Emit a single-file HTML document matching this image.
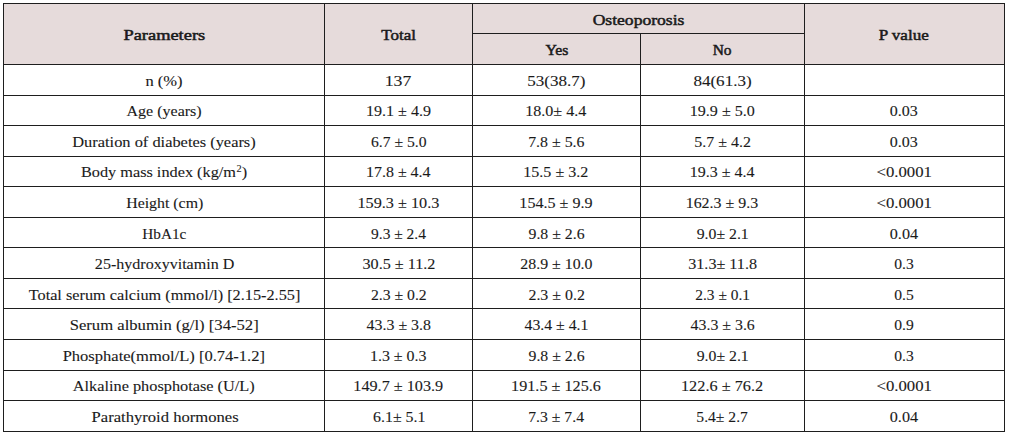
<!DOCTYPE html><html><head><meta charset="utf-8"><style>
html,body{margin:0;padding:0;background:#fff;width:1009px;height:435px;overflow:hidden;position:relative}
.h{position:absolute;background:#1e1e1e;height:1px}
.v{position:absolute;background:#1e1e1e;width:1px}
.c{position:absolute;text-align:center;white-space:nowrap;font-family:"Liberation Serif",serif;color:#1a1a1a;font-size:15px;height:20px;line-height:20px;-webkit-text-stroke:0.1px #1a1a1a}
.c span{display:inline-block}
.b{font-weight:normal;-webkit-text-stroke:0.5px #1a1a1a}
.bg{position:absolute;background:#e6dbdb}
sup{font-size:9.5px;vertical-align:baseline;position:relative;top:-5.5px;line-height:0;margin-left:0.5px}
</style></head><body>

<div class="bg" style="left:3px;top:3px;width:1001px;height:61px"></div>
<div class="h" style="left:3px;top:3px;width:1002px"></div>
<div class="h" style="left:3px;top:64px;width:1002px"></div>
<div class="h" style="left:3px;top:95px;width:1002px"></div>
<div class="h" style="left:3px;top:125px;width:1002px"></div>
<div class="h" style="left:3px;top:156px;width:1002px"></div>
<div class="h" style="left:3px;top:186px;width:1002px"></div>
<div class="h" style="left:3px;top:217px;width:1002px"></div>
<div class="h" style="left:3px;top:247px;width:1002px"></div>
<div class="h" style="left:3px;top:278px;width:1002px"></div>
<div class="h" style="left:3px;top:308px;width:1002px"></div>
<div class="h" style="left:3px;top:339px;width:1002px"></div>
<div class="h" style="left:3px;top:370px;width:1002px"></div>
<div class="h" style="left:3px;top:400px;width:1002px"></div>
<div class="h" style="left:3px;top:431px;width:1002px"></div>
<div class="h" style="left:472px;top:33px;width:332px"></div>
<div class="v" style="left:3px;top:3px;height:429px"></div>
<div class="v" style="left:324px;top:3px;height:429px"></div>
<div class="v" style="left:472px;top:3px;height:429px"></div>
<div class="v" style="left:640px;top:33px;height:399px"></div>
<div class="v" style="left:804px;top:3px;height:429px"></div>
<div class="v" style="left:1004px;top:3px;height:429px"></div>
<div class="c b" style="left:4px;top:25px;width:320px"><span style="transform:translateX(-0.01px) scaleX(1.2267)">Parameters</span></div>
<div class="c b" style="left:325px;top:25px;width:147px"><span style="transform:translateX(0.38px) scaleX(1.1347)">Total</span></div>
<div class="c b" style="left:473px;top:10px;width:331px"><span style="transform:translateX(0.36px) scaleX(1.1715)">Osteoporosis</span></div>
<div class="c b" style="left:473px;top:40px;width:167px"><span style="transform:translateX(-0.09px) scaleX(1.0471)">Yes</span></div>
<div class="c b" style="left:641px;top:40px;width:163px"><span style="transform:translateX(-0.09px) scaleX(1.0291)">No</span></div>
<div class="c b" style="left:805px;top:25px;width:199px"><span style="transform:translateX(-0.25px) scaleX(1.1394)">P value</span></div>
<div class="c" style="left:4px;top:71px;width:320px"><span style="transform:translateX(0.15px) scaleX(1.1027)">n (%)</span></div>
<div class="c" style="left:325px;top:71px;width:147px"><span style="transform:translateX(-0.31px) scaleX(1.1832)">137</span></div>
<div class="c" style="left:473px;top:71px;width:167px"><span style="transform:translateX(-0.26px) scaleX(1.1355)">53(38.7)</span></div>
<div class="c" style="left:641px;top:71px;width:163px"><span style="transform:translateX(-0.11px) scaleX(1.1371)">84(61.3)</span></div>
<div class="c" style="left:4px;top:101px;width:320px"><span style="transform:translateX(-0.11px) scaleX(1.0672)">Age (years)</span></div>
<div class="c" style="left:325px;top:101px;width:147px"><span style="transform:translateX(0.11px) scaleX(1.0700)">19.1 ± 4.9</span></div>
<div class="c" style="left:473px;top:101px;width:167px"><span style="transform:translateX(-0.76px) scaleX(1.0716)">18.0± 4.4</span></div>
<div class="c" style="left:641px;top:101px;width:163px"><span style="transform:translateX(-0.06px) scaleX(1.0709)">19.9 ± 5.0</span></div>
<div class="c" style="left:805px;top:101px;width:199px"><span style="transform:translateX(-0.36px) scaleX(1.0669)">0.03</span></div>
<div class="c" style="left:4px;top:132px;width:320px"><span style="transform:translateX(0.07px) scaleX(1.0928)">Duration of diabetes (years)</span></div>
<div class="c" style="left:325px;top:132px;width:147px"><span style="transform:translateX(0.11px) scaleX(1.0444)">6.7 ± 5.0</span></div>
<div class="c" style="left:473px;top:132px;width:167px"><span style="transform:translateX(-0.26px) scaleX(1.0587)">7.8 ± 5.6</span></div>
<div class="c" style="left:641px;top:132px;width:163px"><span style="transform:translateX(0.02px) scaleX(1.0633)">5.7 ± 4.2</span></div>
<div class="c" style="left:805px;top:132px;width:199px"><span style="transform:translateX(-0.36px) scaleX(1.0669)">0.03</span></div>
<div class="c" style="left:4px;top:162px;width:320px"><span style="transform:translateX(0.42px) scaleX(1.0845)">Body mass index (kg/m<sup>2</sup>)</span></div>
<div class="c" style="left:325px;top:162px;width:147px"><span style="transform:translateX(-0.09px) scaleX(1.0630)">17.8 ± 4.4</span></div>
<div class="c" style="left:473px;top:162px;width:167px"><span style="transform:translateX(-0.57px) scaleX(1.0706)">15.5 ± 3.2</span></div>
<div class="c" style="left:641px;top:162px;width:163px"><span style="transform:translateX(-0.25px) scaleX(1.0646)">19.3 ± 4.4</span></div>
<div class="c" style="left:805px;top:162px;width:199px"><span style="transform:translateX(-0.65px) scaleX(1.1152)">&lt;0.0001</span></div>
<div class="c" style="left:4px;top:193px;width:320px"><span style="transform:translateX(0.28px) scaleX(1.0574)">Height (cm)</span></div>
<div class="c" style="left:325px;top:193px;width:147px"><span style="transform:translateX(-0.45px) scaleX(1.0812)">159.3 ± 10.3</span></div>
<div class="c" style="left:473px;top:193px;width:167px"><span style="transform:translateX(-0.18px) scaleX(1.0722)">154.5 ± 9.9</span></div>
<div class="c" style="left:641px;top:193px;width:163px"><span style="transform:translateX(-0.23px) scaleX(1.0617)">162.3 ± 9.3</span></div>
<div class="c" style="left:805px;top:193px;width:199px"><span style="transform:translateX(-0.65px) scaleX(1.1152)">&lt;0.0001</span></div>
<div class="c" style="left:4px;top:224px;width:320px"><span style="transform:translateX(0.67px) scaleX(1.0190)">HbA1c</span></div>
<div class="c" style="left:325px;top:224px;width:147px"><span style="transform:translateX(-0.14px) scaleX(1.0311)">9.3 ± 2.4</span></div>
<div class="c" style="left:473px;top:224px;width:167px"><span style="transform:translateX(-0.09px) scaleX(1.0523)">9.8 ± 2.6</span></div>
<div class="c" style="left:641px;top:224px;width:163px"><span style="transform:translateX(-0.06px) scaleX(1.0525)">9.0± 2.1</span></div>
<div class="c" style="left:805px;top:224px;width:199px"><span style="transform:translateX(-0.22px) scaleX(1.0781)">0.04</span></div>
<div class="c" style="left:4px;top:254px;width:320px"><span style="transform:translateX(0.36px) scaleX(1.0690)">25-hydroxyvitamin D</span></div>
<div class="c" style="left:325px;top:254px;width:147px"><span style="transform:translateX(0.09px) scaleX(1.0773)">30.5 ± 11.2</span></div>
<div class="c" style="left:473px;top:254px;width:167px"><span style="transform:translateX(0.32px) scaleX(1.0574)">28.9 ± 10.0</span></div>
<div class="c" style="left:641px;top:254px;width:163px"><span style="transform:translateX(-0.35px) scaleX(1.0759)">31.3± 11.8</span></div>
<div class="c" style="left:805px;top:254px;width:199px"><span style="transform:translateX(-0.44px) scaleX(1.0386)">0.3</span></div>
<div class="c" style="left:4px;top:285px;width:320px"><span style="transform:translateX(0.24px) scaleX(1.0841)">Total serum calcium (mmol/l) [2.15-2.55]</span></div>
<div class="c" style="left:325px;top:285px;width:147px"><span style="transform:translateX(0.22px) scaleX(1.0476)">2.3 ± 0.2</span></div>
<div class="c" style="left:473px;top:285px;width:167px"><span style="transform:translateX(0.02px) scaleX(1.0592)">2.3 ± 0.2</span></div>
<div class="c" style="left:641px;top:285px;width:163px"><span style="transform:translateX(0.00px) scaleX(1.0275)">2.3 ± 0.1</span></div>
<div class="c" style="left:805px;top:285px;width:199px"><span style="transform:translateX(-0.44px) scaleX(1.0379)">0.5</span></div>
<div class="c" style="left:4px;top:315px;width:320px"><span style="transform:translateX(-0.01px) scaleX(1.1092)">Serum albumin (g/l) [34-52]</span></div>
<div class="c" style="left:325px;top:315px;width:147px"><span style="transform:translateX(0.42px) scaleX(1.0593)">43.3 ± 3.8</span></div>
<div class="c" style="left:473px;top:315px;width:167px"><span style="transform:translateX(0.09px) scaleX(1.0516)">43.4 ± 4.1</span></div>
<div class="c" style="left:641px;top:315px;width:163px"><span style="transform:translateX(0.33px) scaleX(1.0563)">43.3 ± 3.6</span></div>
<div class="c" style="left:805px;top:315px;width:199px"><span style="transform:translateX(-0.44px) scaleX(1.0379)">0.9</span></div>
<div class="c" style="left:4px;top:346px;width:320px"><span style="transform:translateX(-0.04px) scaleX(1.1016)">Phosphate(mmol/L) [0.74-1.2]</span></div>
<div class="c" style="left:325px;top:346px;width:147px"><span style="transform:translateX(-0.37px) scaleX(1.0648)">1.3 ± 0.3</span></div>
<div class="c" style="left:473px;top:346px;width:167px"><span style="transform:translateX(-0.09px) scaleX(1.0523)">9.8 ± 2.6</span></div>
<div class="c" style="left:641px;top:346px;width:163px"><span style="transform:translateX(-0.06px) scaleX(1.0525)">9.0± 2.1</span></div>
<div class="c" style="left:805px;top:346px;width:199px"><span style="transform:translateX(-0.44px) scaleX(1.0386)">0.3</span></div>
<div class="c" style="left:4px;top:376px;width:320px"><span style="transform:translateX(0.00px) scaleX(1.0855)">Alkaline phosphotase (U/L)</span></div>
<div class="c" style="left:325px;top:376px;width:147px"><span style="transform:translateX(-0.39px) scaleX(1.0801)">149.7 ± 103.9</span></div>
<div class="c" style="left:473px;top:376px;width:167px"><span style="transform:translateX(-0.65px) scaleX(1.0785)">191.5 ± 125.6</span></div>
<div class="c" style="left:641px;top:376px;width:163px"><span style="transform:translateX(-0.81px) scaleX(1.0852)">122.6 ± 76.2</span></div>
<div class="c" style="left:805px;top:376px;width:199px"><span style="transform:translateX(-0.65px) scaleX(1.1152)">&lt;0.0001</span></div>
<div class="c" style="left:4px;top:407px;width:320px"><span style="transform:translateX(0.67px) scaleX(1.1073)">Parathyroid hormones</span></div>
<div class="c" style="left:325px;top:407px;width:147px"><span style="transform:translateX(0.50px) scaleX(1.0584)">6.1± 5.1</span></div>
<div class="c" style="left:473px;top:407px;width:167px"><span style="transform:translateX(-0.51px) scaleX(1.0488)">7.3 ± 7.4</span></div>
<div class="c" style="left:641px;top:407px;width:163px"><span style="transform:translateX(-0.63px) scaleX(1.0423)">5.4± 2.7</span></div>
<div class="c" style="left:805px;top:407px;width:199px"><span style="transform:translateX(-0.22px) scaleX(1.0781)">0.04</span></div>
</body></html>
